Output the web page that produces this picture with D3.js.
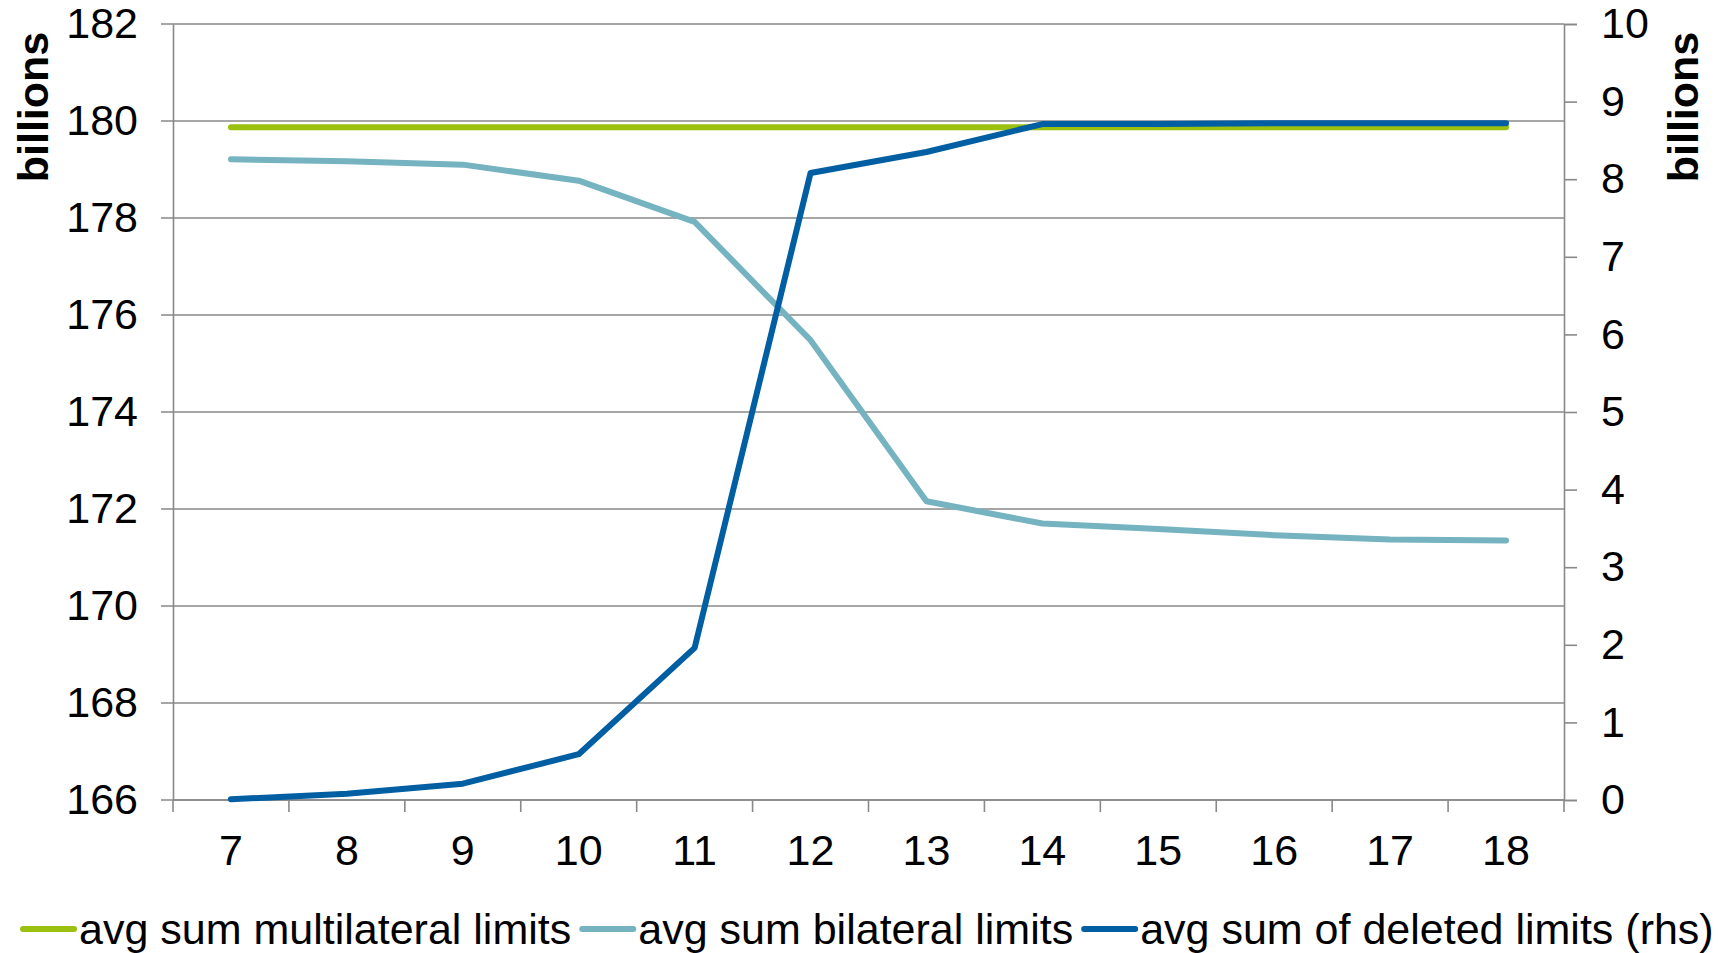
<!DOCTYPE html>
<html>
<head>
<meta charset="utf-8">
<script src="https://cdn.jsdelivr.net/npm/d3@7"></script>
<style>
  html, body { margin: 0; padding: 0; background: #fff; }
  svg { display: block; font-family: Arial, "Liberation Sans", sans-serif; }
</style>
</head>
<body>
<svg id="chart" width="1718" height="953"></svg>
<script>
// ---- data ----
const categories = ["7", "8", "9", "10", "11", "12", "13", "14", "15", "16", "17", "18"];
const multilateral = [179.87, 179.87, 179.87, 179.87, 179.87, 179.87, 179.87, 179.87, 179.87, 179.87, 179.87, 179.87];
const bilateral = [179.21, 179.17, 179.10, 178.77, 177.92, 175.48, 172.16, 171.70, 171.59, 171.46, 171.37, 171.35];
const deleted = [0.01, 0.08, 0.21, 0.59, 1.96, 8.08, 8.35, 8.71, 8.71, 8.72, 8.72, 8.72];
const leftTicks = [166, 168, 170, 172, 174, 176, 178, 180, 182];
const rightTicks = [0, 1, 2, 3, 4, 5, 6, 7, 8, 9, 10];
const seriesNames = ["avg sum multilateral limits", "avg sum bilateral limits", "avg sum of deleted limits (rhs)"];
const seriesColors = ["#9bc00f", "#74b3bf", "#005ea2"];
const axisTitle = "billions";

// ---- layout ----
const svg = d3.select("#chart");
const plot = { left: 173, right: 1564, top: 24, bottom: 800 };
const fontSize = 43;
const gridColor = "#898989";
const ff = "Arial, 'Liberation Sans', sans-serif";

const x = d3.scaleBand().domain(categories).range([plot.left, plot.right]).paddingInner(0).paddingOuter(0);
const yL = d3.scaleLinear().domain([166, 182]).range([plot.bottom, plot.top]);
const yR = d3.scaleLinear().domain([0, 10]).range([plot.bottom, plot.top]);
const cx = c => x(c) + x.bandwidth() / 2;

// gridlines (left axis)
svg.append("g")
  .selectAll("line")
  .data(leftTicks)
  .join("line")
  .attr("x1", plot.left - 12).attr("x2", plot.right)
  .attr("y1", d => yL(d)).attr("y2", d => yL(d))
  .attr("stroke", gridColor).attr("stroke-width", 1.6);

// left axis
const leftAxis = d3.axisLeft(yL).tickValues(leftTicks).tickSize(0).tickPadding(35);
const gl = svg.append("g").attr("transform", `translate(${plot.left},0)`).call(leftAxis);
gl.select(".domain").attr("stroke", gridColor).attr("stroke-width", 1.6);
gl.selectAll("text").attr("font-size", fontSize).attr("fill", "#000").attr("font-family", ff);

// right axis
const rightAxis = d3.axisRight(yR).tickValues(rightTicks).tickSize(13).tickPadding(24);
const gr = svg.append("g").attr("transform", `translate(${plot.right},0)`).call(rightAxis);
gr.select(".domain").attr("stroke", gridColor).attr("stroke-width", 1.6);
gr.selectAll(".tick line").attr("stroke", gridColor).attr("stroke-width", 1.6);
gr.selectAll("text").attr("font-size", fontSize).attr("fill", "#000").attr("font-family", ff);

// x axis: ticks at category boundaries
const gx = svg.append("g").attr("transform", `translate(0,${plot.bottom})`);
gx.append("line").attr("x1", plot.left).attr("x2", plot.right).attr("y1", 0).attr("y2", 0)
  .attr("stroke", gridColor).attr("stroke-width", 1.6);
const boundaries = categories.map(c => x(c)).concat([x(categories[categories.length - 1]) + x.bandwidth()]);
gx.selectAll("line.tk").data(boundaries).join("line").attr("class", "tk")
  .attr("x1", d => d).attr("x2", d => d).attr("y1", 0).attr("y2", 12)
  .attr("stroke", gridColor).attr("stroke-width", 1.6);
gx.selectAll("text").data(categories).join("text")
  .attr("x", d => cx(d)).attr("y", 50)
  .attr("dy", "0.35em")
  .attr("text-anchor", "middle")
  .attr("font-size", fontSize)
  .text(d => d);

// axis titles
svg.append("text")
  .attr("transform", `translate(33,107) rotate(-90)`)
  .attr("text-anchor", "middle").attr("dy", "0.35em")
  .attr("font-size", fontSize).attr("font-weight", "bold")
  .text(axisTitle);
svg.append("text")
  .attr("transform", `translate(1683,107) rotate(-90)`)
  .attr("text-anchor", "middle").attr("dy", "0.35em")
  .attr("font-size", fontSize).attr("font-weight", "bold")
  .text(axisTitle);

// lines
const lineL = d3.line().x((d, i) => cx(categories[i])).y(d => yL(d));
const lineR = d3.line().x((d, i) => cx(categories[i])).y(d => yR(d));
const series = [
  { values: multilateral, gen: lineL },
  { values: bilateral, gen: lineL },
  { values: deleted, gen: lineR }
];
svg.append("g").selectAll("path").data(series).join("path")
  .attr("d", d => d.gen(d.values))
  .attr("fill", "none")
  .attr("stroke", (d, i) => seriesColors[i])
  .attr("stroke-width", 6)
  .attr("stroke-linecap", "round")
  .attr("stroke-linejoin", "round");

// legend
const legendY = 929;
let lx = 20;
const lg = svg.append("g");
seriesNames.forEach((name, i) => {
  lg.append("line")
    .attr("x1", lx + 3).attr("x2", lx + 54)
    .attr("y1", legendY).attr("y2", legendY)
    .attr("stroke", seriesColors[i]).attr("stroke-width", 6).attr("stroke-linecap", "round");
  const t = lg.append("text")
    .attr("x", lx + 59).attr("y", legendY)
    .attr("dy", "0.35em")
    .attr("font-size", fontSize)
    .text(name);
  const w = t.node().getComputedTextLength();
  lx = lx + 59 + w + 8;
});
</script>
</body>
</html>
